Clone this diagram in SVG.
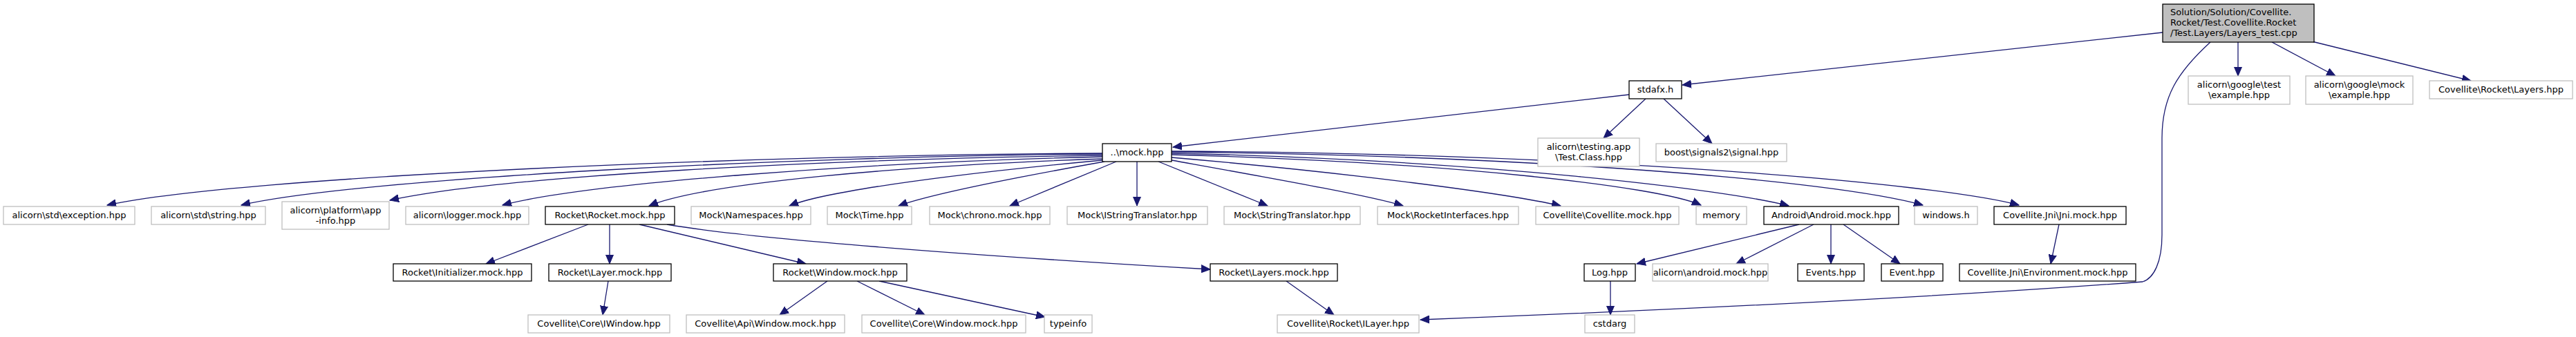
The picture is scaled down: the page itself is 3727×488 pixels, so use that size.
<svg xmlns="http://www.w3.org/2000/svg" width="3727" height="488" viewBox="0 0 3727 488">
<style>
rect{fill:#fff;stroke-width:1.3}
.n rect{stroke:#000}
.g rect{stroke:#bfbfbf}
.top rect{fill:#bfbfbf;stroke:#000}
text{font-family:"DejaVu Sans",sans-serif;font-size:13px;fill:#000;text-anchor:middle}
.top text{text-anchor:start}
#edges path{fill:none;stroke:#191970;stroke-width:1.3;marker-end:url(#a)}
</style>
<defs>
<marker id="a" markerUnits="userSpaceOnUse" markerWidth="14" markerHeight="12" refX="13" refY="6" orient="auto">
<path d="M0,0.5 L13,6 L0,11.5 z" fill="#191970" stroke="#191970" stroke-width="1"/>
</marker>
</defs>
<rect x="0" y="0" width="3727" height="488" style="fill:#fff;stroke:none"/>
<g id="edges">
<path d="M3129,47 L2434,123"/>
<path d="M3238,61 L3238,110"/>
<path d="M3287,61 L3379,110"/>
<path d="M3345,60 L3575,117"/>
<path d="M3198,61 C3150,105 3128,140 3128,200 L3128,340 C3128,380 3116,403 3100,408 Q2700,438 2055,463"/>
<path d="M2357,137 L1697,213"/>
<path d="M2381,143 L2320,200"/>
<path d="M2407,143 L2477,208"/>
<path d="M1595,222 C1100,224 350,255 155,297"/>
<path d="M1595,223 C1150,226 520,258 349,297"/>
<path d="M1595,225 C1200,230 720,255 564,290"/>
<path d="M1595,227 C1250,235 850,265 727,297"/>
<path d="M1595,230 C1300,240 1020,265 939,298"/>
<path d="M1595,232 C1400,250 1200,275 1142,298"/>
<path d="M1598,234 C1480,255 1350,280 1300,298"/>
<path d="M1615,234 L1461,298"/>
<path d="M1645,234 L1645,298"/>
<path d="M1676,234 L1834,298"/>
<path d="M1695,232 C1850,260 1980,283 2030,298"/>
<path d="M1695,228 C1950,250 2180,280 2258,298"/>
<path d="M1695,224 C2100,235 2400,270 2461,297"/>
<path d="M1695,222 C2150,232 2500,275 2588,298"/>
<path d="M1695,220 C2200,225 2650,260 2782,297"/>
<path d="M1695,219 C2300,222 2800,265 2921,297"/>
<path d="M851,325 L703,382"/>
<path d="M882,325 L882,382"/>
<path d="M925,325 L1166,382"/>
<path d="M965,325 C1080,345 1400,370 1751,390"/>
<path d="M880,407 L872,456"/>
<path d="M1197,407 L1128,456"/>
<path d="M1240,407 L1338,456"/>
<path d="M1272,407 L1512,459"/>
<path d="M1861,407 L1930,456"/>
<path d="M2603,325 L2368,382"/>
<path d="M2624,325 L2512,382"/>
<path d="M2649,325 L2649,382"/>
<path d="M2667,325 L2749,382"/>
<path d="M2979,325 L2967,382"/>
<path d="M2330,407 L2330,456"/>
</g>
<g id="top" class="top"><rect x="3129" y="6" width="219" height="55"/><text x="3140" y="21.5">Solution/Solution/Covellite.</text><text x="3140" y="36.5">Rocket/Test.Covellite.Rocket</text><text x="3140" y="51.5">/Test.Layers/Layers_test.cpp</text></g>
<g id="stdafx" class="n"><rect x="2357" y="117" width="76" height="26"/><text x="2395" y="134">stdafx.h</text></g>
<g id="gtest" class="g"><rect x="3166" y="110" width="147" height="41"/><text x="3239.5" y="127">alicorn\google\test</text><text x="3239.5" y="142">\example.hpp</text></g>
<g id="gmock" class="g"><rect x="3336" y="110" width="155" height="41"/><text x="3413.5" y="127">alicorn\google\mock</text><text x="3413.5" y="142">\example.hpp</text></g>
<g id="layershpp" class="g"><rect x="3515" y="117" width="207" height="26"/><text x="3618.5" y="134">Covellite\Rocket\Layers.hpp</text></g>
<g id="testclass" class="g"><rect x="2225" y="200" width="147" height="41"/><text x="2298.5" y="217">alicorn\testing.app</text><text x="2298.5" y="232">\Test.Class.hpp</text></g>
<g id="boost" class="g"><rect x="2396" y="208" width="189" height="26"/><text x="2490.5" y="225">boost\signals2\signal.hpp</text></g>
<g id="mock" class="n"><rect x="1595" y="208" width="100" height="26"/><text x="1645" y="225">..\mock.hpp</text></g>
<g id="exception" class="g"><rect x="5" y="299" width="190" height="26"/><text x="100" y="316">alicorn\std\exception.hpp</text></g>
<g id="string" class="g"><rect x="219" y="299" width="165" height="26"/><text x="301.5" y="316">alicorn\std\string.hpp</text></g>
<g id="appinfo" class="g"><rect x="408" y="292" width="155" height="40"/><text x="485.5" y="308.5">alicorn\platform\app</text><text x="485.5" y="323.5">-info.hpp</text></g>
<g id="logger" class="g"><rect x="587" y="299" width="178" height="26"/><text x="676" y="316">alicorn\logger.mock.hpp</text></g>
<g id="rocketmock" class="n"><rect x="789" y="299" width="187" height="26"/><text x="882.5" y="316">Rocket\Rocket.mock.hpp</text></g>
<g id="namespaces" class="g"><rect x="1000" y="299" width="173" height="26"/><text x="1086.5" y="316">Mock\Namespaces.hpp</text></g>
<g id="time" class="g"><rect x="1197" y="299" width="122" height="26"/><text x="1258" y="316">Mock\Time.hpp</text></g>
<g id="chrono" class="g"><rect x="1345" y="299" width="174" height="26"/><text x="1432" y="316">Mock\chrono.mock.hpp</text></g>
<g id="istring" class="g"><rect x="1544" y="299" width="203" height="26"/><text x="1645.5" y="316">Mock\IStringTranslator.hpp</text></g>
<g id="stringtr" class="g"><rect x="1771" y="299" width="197" height="26"/><text x="1869.5" y="316">Mock\StringTranslator.hpp</text></g>
<g id="rocketif" class="g"><rect x="1993" y="299" width="204" height="26"/><text x="2095" y="316">Mock\RocketInterfaces.hpp</text></g>
<g id="covmock" class="g"><rect x="2222" y="299" width="207" height="26"/><text x="2325.5" y="316">Covellite\Covellite.mock.hpp</text></g>
<g id="memory" class="g"><rect x="2454" y="299" width="73" height="26"/><text x="2490.5" y="316">memory</text></g>
<g id="android" class="n"><rect x="2552" y="299" width="195" height="26"/><text x="2649.5" y="316">Android\Android.mock.hpp</text></g>
<g id="windows" class="g"><rect x="2770" y="299" width="91" height="26"/><text x="2815.5" y="316">windows.h</text></g>
<g id="jni" class="n"><rect x="2885" y="299" width="191" height="26"/><text x="2980.5" y="316">Covellite.Jni\Jni.mock.hpp</text></g>
<g id="init" class="n"><rect x="569" y="382" width="200" height="25"/><text x="669" y="399">Rocket\Initializer.mock.hpp</text></g>
<g id="layer" class="n"><rect x="794" y="382" width="177" height="25"/><text x="882.5" y="399">Rocket\Layer.mock.hpp</text></g>
<g id="window" class="n"><rect x="1119" y="382" width="193" height="25"/><text x="1215.5" y="399">Rocket\Window.mock.hpp</text></g>
<g id="layersmock" class="n"><rect x="1751" y="382" width="184" height="25"/><text x="1843" y="399">Rocket\Layers.mock.hpp</text></g>
<g id="log" class="n"><rect x="2292" y="382" width="74" height="25"/><text x="2329" y="399">Log.hpp</text></g>
<g id="andmock" class="g"><rect x="2391" y="382" width="167" height="25"/><text x="2474.5" y="399">alicorn\android.mock.hpp</text></g>
<g id="events" class="n"><rect x="2601" y="382" width="96" height="25"/><text x="2649" y="399">Events.hpp</text></g>
<g id="event" class="n"><rect x="2722" y="382" width="89" height="25"/><text x="2766.5" y="399">Event.hpp</text></g>
<g id="env" class="n"><rect x="2835" y="382" width="255" height="25"/><text x="2962.5" y="399">Covellite.Jni\Environment.mock.hpp</text></g>
<g id="iwindow" class="g"><rect x="764" y="456" width="205" height="26"/><text x="866.5" y="473">Covellite\Core\IWindow.hpp</text></g>
<g id="apiwin" class="g"><rect x="993" y="456" width="229" height="26"/><text x="1107.5" y="473">Covellite\Api\Window.mock.hpp</text></g>
<g id="corewin" class="g"><rect x="1247" y="456" width="237" height="26"/><text x="1365.5" y="473">Covellite\Core\Window.mock.hpp</text></g>
<g id="typeinfo" class="g"><rect x="1511" y="456" width="69" height="26"/><text x="1545.5" y="473">typeinfo</text></g>
<g id="ilayer" class="g"><rect x="1848" y="456" width="205" height="26"/><text x="1950.5" y="473">Covellite\Rocket\ILayer.hpp</text></g>
<g id="cstdarg" class="g"><rect x="2293" y="456" width="72" height="26"/><text x="2329" y="473">cstdarg</text></g>
</svg>
